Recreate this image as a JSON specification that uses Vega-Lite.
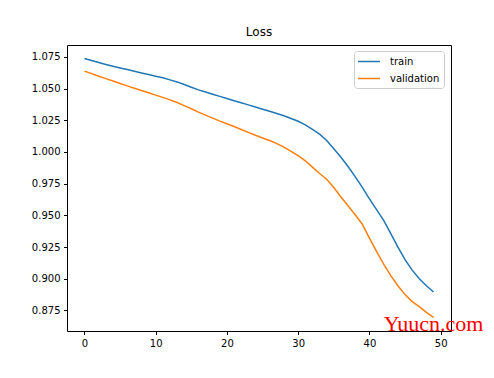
{
  "$schema": "https://vega.github.io/schema/vega-lite/v6.json",
  "autosize": {"type": "none"},
  "width": 384,
  "height": 286,
  "padding": {"left": 67, "top": 45, "right": 43, "bottom": 47},
  "background": "white",
  "config": {
    "font": "DejaVu Sans",
    "view": {"stroke": "#000000", "strokeWidth": 1},
    "axis": {"grid": false, "domain": false, "tickColor": "#000000", "tickSize": 3.5, "labelColor": "#000000", "labelFont": "DejaVu Sans", "labelFontSize": 10, "labelPadding": 3.5, "titleFontSize": 10, "labelOverlap": false, "labelFlush": false},
    "axisY": {"labelOverlap": false, "labelBound": false},
    "axisQuantitative": {"labelOverlap": false}
  },
  "title": {"text": "Loss", "fontSize": 12, "fontWeight": "normal", "font": "DejaVu Sans", "color": "#000000", "offset": 6, "anchor": "middle"},
  "datasets": {
    "loss": [
      {"epoch": 0, "loss": 1.0737, "series": "train"},
      {"epoch": 1, "loss": 1.0721, "series": "train"},
      {"epoch": 2, "loss": 1.0705, "series": "train"},
      {"epoch": 3, "loss": 1.0690, "series": "train"},
      {"epoch": 4, "loss": 1.0676, "series": "train"},
      {"epoch": 5, "loss": 1.0662, "series": "train"},
      {"epoch": 6, "loss": 1.0649, "series": "train"},
      {"epoch": 7, "loss": 1.0636, "series": "train"},
      {"epoch": 8, "loss": 1.0623, "series": "train"},
      {"epoch": 9, "loss": 1.0610, "series": "train"},
      {"epoch": 10, "loss": 1.0597, "series": "train"},
      {"epoch": 11, "loss": 1.0584, "series": "train"},
      {"epoch": 12, "loss": 1.0568, "series": "train"},
      {"epoch": 13, "loss": 1.0552, "series": "train"},
      {"epoch": 14, "loss": 1.0532, "series": "train"},
      {"epoch": 15, "loss": 1.0510, "series": "train"},
      {"epoch": 16, "loss": 1.0489, "series": "train"},
      {"epoch": 17, "loss": 1.0472, "series": "train"},
      {"epoch": 18, "loss": 1.0455, "series": "train"},
      {"epoch": 19, "loss": 1.0438, "series": "train"},
      {"epoch": 20, "loss": 1.0421, "series": "train"},
      {"epoch": 21, "loss": 1.0404, "series": "train"},
      {"epoch": 22, "loss": 1.0388, "series": "train"},
      {"epoch": 23, "loss": 1.0371, "series": "train"},
      {"epoch": 24, "loss": 1.0354, "series": "train"},
      {"epoch": 25, "loss": 1.0337, "series": "train"},
      {"epoch": 26, "loss": 1.0320, "series": "train"},
      {"epoch": 27, "loss": 1.0303, "series": "train"},
      {"epoch": 28, "loss": 1.0285, "series": "train"},
      {"epoch": 29, "loss": 1.0264, "series": "train"},
      {"epoch": 30, "loss": 1.0242, "series": "train"},
      {"epoch": 31, "loss": 1.0213, "series": "train"},
      {"epoch": 32, "loss": 1.0178, "series": "train"},
      {"epoch": 33, "loss": 1.0140, "series": "train"},
      {"epoch": 34, "loss": 1.0090, "series": "train"},
      {"epoch": 35, "loss": 1.0025, "series": "train"},
      {"epoch": 36, "loss": 0.9958, "series": "train"},
      {"epoch": 37, "loss": 0.9885, "series": "train"},
      {"epoch": 38, "loss": 0.9805, "series": "train"},
      {"epoch": 39, "loss": 0.9720, "series": "train"},
      {"epoch": 40, "loss": 0.9630, "series": "train"},
      {"epoch": 41, "loss": 0.9545, "series": "train"},
      {"epoch": 42, "loss": 0.9460, "series": "train"},
      {"epoch": 43, "loss": 0.9355, "series": "train"},
      {"epoch": 44, "loss": 0.9250, "series": "train"},
      {"epoch": 45, "loss": 0.9150, "series": "train"},
      {"epoch": 46, "loss": 0.9068, "series": "train"},
      {"epoch": 47, "loss": 0.9000, "series": "train"},
      {"epoch": 48, "loss": 0.8945, "series": "train"},
      {"epoch": 49, "loss": 0.8895, "series": "train"},
      {"epoch": 0, "loss": 1.0637, "series": "validation"},
      {"epoch": 1, "loss": 1.0617, "series": "validation"},
      {"epoch": 2, "loss": 1.0597, "series": "validation"},
      {"epoch": 3, "loss": 1.0578, "series": "validation"},
      {"epoch": 4, "loss": 1.0559, "series": "validation"},
      {"epoch": 5, "loss": 1.0540, "series": "validation"},
      {"epoch": 6, "loss": 1.0521, "series": "validation"},
      {"epoch": 7, "loss": 1.0502, "series": "validation"},
      {"epoch": 8, "loss": 1.0484, "series": "validation"},
      {"epoch": 9, "loss": 1.0466, "series": "validation"},
      {"epoch": 10, "loss": 1.0448, "series": "validation"},
      {"epoch": 11, "loss": 1.0430, "series": "validation"},
      {"epoch": 12, "loss": 1.0410, "series": "validation"},
      {"epoch": 13, "loss": 1.0390, "series": "validation"},
      {"epoch": 14, "loss": 1.0365, "series": "validation"},
      {"epoch": 15, "loss": 1.0340, "series": "validation"},
      {"epoch": 16, "loss": 1.0314, "series": "validation"},
      {"epoch": 17, "loss": 1.0290, "series": "validation"},
      {"epoch": 18, "loss": 1.0266, "series": "validation"},
      {"epoch": 19, "loss": 1.0243, "series": "validation"},
      {"epoch": 20, "loss": 1.0222, "series": "validation"},
      {"epoch": 21, "loss": 1.0200, "series": "validation"},
      {"epoch": 22, "loss": 1.0177, "series": "validation"},
      {"epoch": 23, "loss": 1.0154, "series": "validation"},
      {"epoch": 24, "loss": 1.0131, "series": "validation"},
      {"epoch": 25, "loss": 1.0110, "series": "validation"},
      {"epoch": 26, "loss": 1.0090, "series": "validation"},
      {"epoch": 27, "loss": 1.0065, "series": "validation"},
      {"epoch": 28, "loss": 1.0038, "series": "validation"},
      {"epoch": 29, "loss": 1.0005, "series": "validation"},
      {"epoch": 30, "loss": 0.9970, "series": "validation"},
      {"epoch": 31, "loss": 0.9930, "series": "validation"},
      {"epoch": 32, "loss": 0.9880, "series": "validation"},
      {"epoch": 33, "loss": 0.9830, "series": "validation"},
      {"epoch": 34, "loss": 0.9785, "series": "validation"},
      {"epoch": 35, "loss": 0.9720, "series": "validation"},
      {"epoch": 36, "loss": 0.9645, "series": "validation"},
      {"epoch": 37, "loss": 0.9575, "series": "validation"},
      {"epoch": 38, "loss": 0.9505, "series": "validation"},
      {"epoch": 39, "loss": 0.9430, "series": "validation"},
      {"epoch": 40, "loss": 0.9320, "series": "validation"},
      {"epoch": 41, "loss": 0.9215, "series": "validation"},
      {"epoch": 42, "loss": 0.9115, "series": "validation"},
      {"epoch": 43, "loss": 0.9025, "series": "validation"},
      {"epoch": 44, "loss": 0.8945, "series": "validation"},
      {"epoch": 45, "loss": 0.8875, "series": "validation"},
      {"epoch": 46, "loss": 0.8820, "series": "validation"},
      {"epoch": 47, "loss": 0.8780, "series": "validation"},
      {"epoch": 48, "loss": 0.8735, "series": "validation"},
      {"epoch": 49, "loss": 0.8695, "series": "validation"}
    ],
    "mark": [
      {"epoch": 49, "loss": 0.8642, "label": "Yuucn.com"}
    ]
  },
  "layer": [
    {
      "data": {"name": "loss"},
      "mark": {"type": "line", "strokeWidth": 1.5, "interpolate": "linear"},
      "encoding": {
        "x": {
          "field": "epoch", "type": "quantitative",
          "scale": {"domain": [-2.45, 51.45], "nice": false, "zero": false},
          "axis": {"title": null, "values": [0, 10, 20, 30, 40, 50], "format": "d", "labelOverlap": false}
        },
        "y": {
          "field": "loss", "type": "quantitative",
          "scale": {"domain": [0.8588, 1.0843], "nice": false, "zero": false},
          "axis": {"title": null, "values": [0.875, 0.9, 0.925, 0.95, 0.975, 1.0, 1.025, 1.05, 1.075], "format": ".3f", "labelOverlap": false, "labelBound": false}
        },
        "color": {
          "field": "series", "type": "nominal",
          "scale": {"domain": ["train", "validation"], "range": ["#1f77b4", "#ff7f0e"]},
          "legend": {
            "title": null,
            "orient": "none",
            "legendX": 287,
            "legendY": 6,
            "symbolType": "M-2,0H2",
            "symbolSize": 121,
            "symbolStrokeWidth": 1.5,
            "symbolOffset": 4.5,
            "labelFontSize": 10,
            "labelFont": "DejaVu Sans",
            "labelColor": "#000000",
            "rowPadding": 5,
            "fillColor": "white",
            "strokeColor": "#cccccc",
            "cornerRadius": 3,
            "padding": 4,
            "labelOffset": 14.5
          }
        }
      }
    },
    {
      "data": {"name": "mark"},
      "mark": {"type": "text", "font": "Liberation Serif", "fontSize": 22, "color": "#ff0000", "clip": false, "align": "center", "baseline": "middle"},
      "encoding": {
        "x": {"field": "epoch", "type": "quantitative", "axis": {"title": null, "values": [0, 10, 20, 30, 40, 50], "format": "d", "labelOverlap": false}},
        "y": {"field": "loss", "type": "quantitative", "axis": {"title": null, "values": [0.875, 0.9, 0.925, 0.95, 0.975, 1.0, 1.025, 1.05, 1.075], "format": ".3f", "labelOverlap": false, "labelBound": false}},
        "text": {"field": "label"}
      }
    }
  ]
}
